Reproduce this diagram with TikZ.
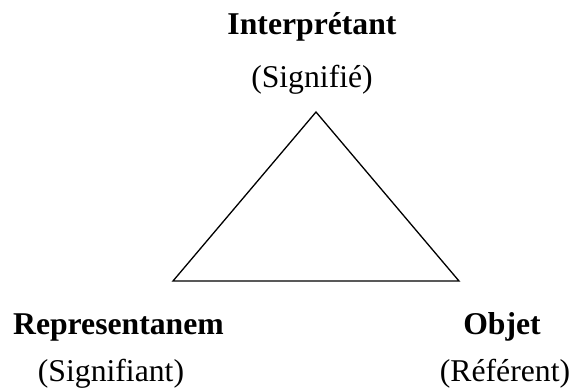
\documentclass[tikz,border=0pt]{standalone}
\usepackage{fontspec}
\setmainfont{Liberation Serif}
\begin{document}
\begin{tikzpicture}[x=1pt,y=-1pt,
  title/.style={font=\fontsize{31.7}{36}\selectfont\bfseries,anchor=base,inner sep=0pt},
  sub/.style={font=\fontsize{31.7}{36}\selectfont,anchor=base,inner sep=0pt},
  edge/.style={line width=1.3pt,line join=miter}]
\useasboundingbox (0,0) rectangle (571,390);
\coordinate (top) at (316,112);
\coordinate (left) at (173,281);
\coordinate (right) at (459,281);
\draw[edge] (top) -- (left) -- (right) -- cycle;
\node[title] (interp) at (312,35) {Interprétant};
\node[sub] (signifie) at (312,88) {(Signifié)};
\node[title] (repr) at (118.5,335) {Representanem};
\node[sub] (signifiant) at (111,382) {(Signifiant)};
\node[title] (objet) at (502,335) {Objet};
\node[sub] (referent) at (505,382) {(Référent)};
\end{tikzpicture}
\end{document}
